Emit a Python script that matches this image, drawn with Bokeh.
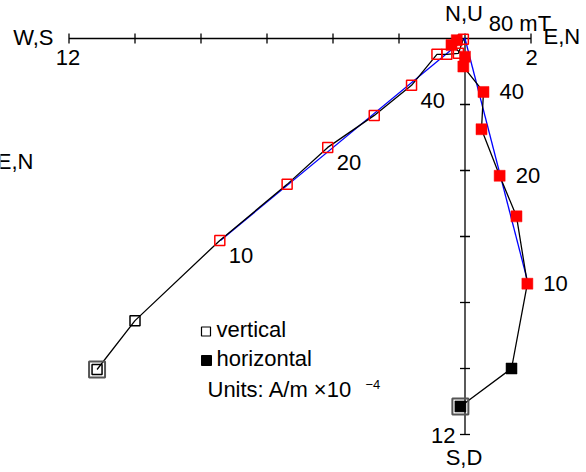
import math
from bokeh.plotting import figure
from bokeh.models import Range1d
from bokeh.core.properties import value
from bokeh.embed import file_html
from bokeh.resources import INLINE

# ---------------- data (A/m x10^-4) ----------------
steps = [0, 5, 10, 15, 20, 30, 40, 50, 60, 70, 80]          # mT
north = [-11.15, -10.00, -7.43, -5.39, -4.16, -2.75, -1.62, -0.85, -0.55, -0.20, -0.05]
east = [-0.14, 1.41, 1.89, 1.56, 1.05, 0.50, 0.56, -0.05, 0.00, -0.41, -0.25]
up = [-10.03, -8.55, -6.12, -4.42, -3.30, -2.33, -1.42, -0.48, -0.48, -0.45, -0.02]
label_steps = [10, 20, 40]

# principal-component fit lines
fit_v_n = [0.0, -7.41]
fit_v_u = [0.0, -6.12]
fit_h_e = [0.0, 1.92]
fit_h_n = [0.0, -7.45]

# axes
x_axis_ends = [-12, 2]
y_axis_ends = [0, -12]
x_ticks = [-12, -10, -8, -6, -4, -2, 0, 2]
y_ticks = [-2, -4, -6, -8, -10, -12]

# ---------------- layout ----------------
W, H = 586, 472
S = 33.0            # pixels per unit
OX, OY = 464.5, 38.0  # pixel position of origin


def X(px):
    return (px - OX) / S


def Y(py):
    return (OY - py) / S


FONT = value("Liberation Sans")
FS = "22px"

p = figure(width=W, height=H, x_range=Range1d(X(0), X(W)), y_range=Range1d(Y(H), Y(0)),
           output_backend="svg", toolbar_location=None,
           x_axis_type=None, y_axis_type=None, min_border=0)
p.outline_line_color = None
p.background_fill_color = "white"
p.border_fill_color = "white"

# axes lines and ticks
p.line(x_axis_ends, [0, 0], line_color="black", line_width=1.3)
p.line([0, 0], y_axis_ends, line_color="black", line_width=1.3)
p.scatter(x_ticks, [0] * len(x_ticks), marker="dash", angle=math.pi / 2, size=10,
          line_color="black", line_width=1.3)
p.scatter([0] * len(y_ticks), y_ticks, marker="dash", size=10,
          line_color="black", line_width=1.3)

# fit lines
p.line(fit_v_n, fit_v_u, line_color="blue", line_width=1.3)
p.line(fit_h_e, fit_h_n, line_color="blue", line_width=1.3)

# connecting lines
p.line(north, up, line_color="black", line_width=1.3)
p.line(east, north, line_color="black", line_width=1.3)

cols = ["black" if i < 2 else "red" for i in range(len(steps))]

# NRM double outline
p.scatter([north[0]], [up[0]], marker="square", size=16, fill_color=None,
          line_color="#555555", line_width=2)
p.scatter([east[0]], [north[0]], marker="square", size=16, fill_color=None,
          line_color="#555555", line_width=2)

# vertical projection: open squares
p.scatter(north, up, marker="square", size=10, fill_color=None,
          line_color=cols, line_width=1.5)
# horizontal projection: filled squares
p.scatter(east, north, marker="square", size=11, fill_color=cols,
          line_color=cols, line_width=0.5)

# step labels
idx = [steps.index(s) for s in label_steps]
p.text([north[i] for i in idx], [up[i] for i in idx], text=[str(s) for s in label_steps],
       x_offset=9, y_offset=15, text_font=FONT, text_font_size=FS,
       text_align="left", text_baseline="middle", text_color="black")
p.text([east[i] for i in idx], [north[i] for i in idx], text=[str(s) for s in label_steps],
       x_offset=16, y_offset=0, text_font=FONT, text_font_size=FS,
       text_align="left", text_baseline="middle", text_color="black")
p.text([east[-1]], [north[-1]], text=[f"{steps[-1]} mT"],
       x_offset=32, y_offset=-17, text_font=FONT, text_font_size=FS,
       text_align="left", text_baseline="middle", text_color="black")


def label(px, py, txt, align, size=FS):
    p.text([X(px)], [Y(py)], text=[txt], text_font=FONT, text_font_size=size,
           text_align=align, text_baseline="middle", text_color="black")


# axis labels
label(53, 37, "W,S", "right")
label(67.5, 56.5, str(abs(x_axis_ends[0])), "center")
label(531, 56.5, str(abs(x_axis_ends[1])), "center")
label(543, 36, "E,N", "left")
label(463.5, 12.5, "N,U", "center")
label(463.5, 456.5, "S,D", "center")
label(455, 435, str(abs(y_axis_ends[1])), "right")
label(33, 160.5, "E,N", "right")

# legend
p.scatter([X(205.5)], [Y(331)], marker="square", size=9, fill_color=None,
          line_color="black", line_width=1.2)
p.scatter([X(206)], [Y(360)], marker="square", size=10, fill_color="black",
          line_color="black")
label(216, 329, "vertical", "left")
label(216, 357.5, "horizontal", "left")
label(207, 388.5, "Units: A/m \u00d710", "left")
label(365, 384, "\u22124", "left", size="13px")

open("out.html", "w").write(file_html(p, INLINE))
